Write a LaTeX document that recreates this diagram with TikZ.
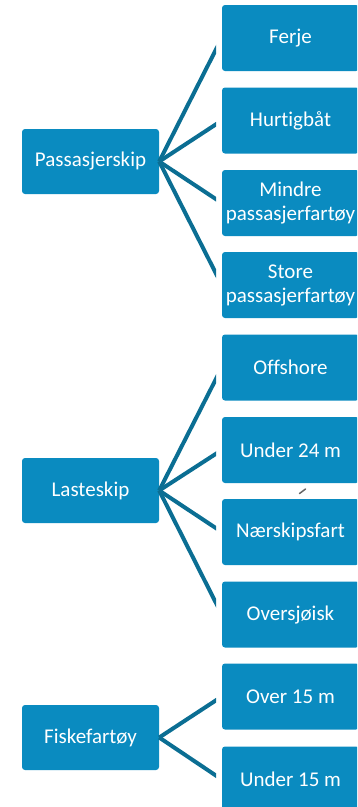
\documentclass[tikz,border=0pt]{standalone}
\usepackage{fontspec}
\setmainfont{Carlito}[Ligatures=NoCommon]
\usetikzlibrary{calc}
\definecolor{boxblue}{HTML}{0A8BC0}
\definecolor{linkteal}{HTML}{0B6E93}
\tikzset{
  catbox/.style={fill=boxblue, rounded corners=3pt, minimum width=137pt, minimum height=65pt,
    inner sep=0pt, text=white, align=center, font=\fontsize{21}{24}\selectfont},
  subbox/.style={catbox, minimum height=66pt},
  link/.style={draw=linkteal, line width=4pt, line cap=butt},
  stray/.style={draw=black!60, line width=1.5pt, line cap=round}
}
\begin{document}
\begin{tikzpicture}[x=1pt,y=-1pt]
\useasboundingbox (0,0) rectangle (357,807);
\clip (0,0) rectangle (357,807);
% parents
\node[catbox] (pass) at (90.5,161.5) {Passasjerskip};
\node[catbox] (last) at (90.5,490.5) {Lasteskip};
\node[catbox] (fisk) at (90.5,737.5) {Fiskefartøy};
% children
\node[subbox] (ferje) at (290.5,38) {Ferje};
\node[subbox] (hurt) at (290.5,120.5) {Hurtigbåt};
\node[subbox] (mind) at (290.5,203) {Mindre\\passasjerfartøy};
\node[subbox] (stor) at (290.5,285) {Store\\passasjerfartøy};
\node[subbox] (offs) at (290.5,367.5) {Offshore};
\node[subbox] (u24) at (290.5,450) {Under 24 m};
\node[subbox] (naer) at (290.5,532) {Nærskipsfart};
\node[subbox] (over) at (290.5,614.5) {Oversjøisk};
\node[subbox] (o15) at (290.5,696.5) {Over 15 m};
\node[subbox] (u15) at (290.5,779.5) {Under 15 m};
% connectors
\begin{scope}
\clip (0,0) rectangle (216,807);
\foreach \c in {ferje,hurt,mind,stor} \draw[link] (pass.east) -- (\c.west);
\foreach \c in {offs,u24,naer,over} \draw[link] (last.east) -- (\c.west);
\foreach \c in {o15,u15} \draw[link] (fisk.east) -- (\c.west);
\end{scope}
% stray mark
\coordinate (sa) at (299.5,493.5);
\coordinate (sb) at (305.5,489);
\draw[stray] (sa) -- (sb);
\end{tikzpicture}
\end{document}
